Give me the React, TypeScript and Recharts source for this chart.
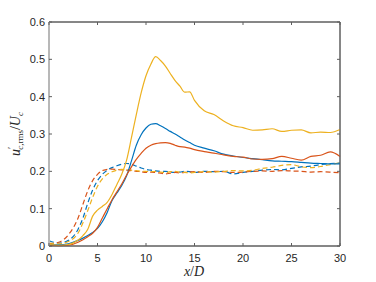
import React from "react";
import { LineChart, Line, XAxis, YAxis, ReferenceArea } from "recharts";

const xs = [0, 1, 2, 3, 3.5, 4, 4.5, 5, 5.5, 6, 6.5, 7, 7.5, 8, 8.5, 9, 9.5, 10, 10.5, 11, 11.5, 12, 12.5, 13, 13.5, 14, 14.5, 15, 16, 17, 18, 19, 20, 21, 22, 23, 24, 25, 26, 27, 28, 29, 30];

// solid lines
const blueSolid = [0.004, 0.003, 0.006, 0.015, 0.021, 0.028, 0.036, 0.047, 0.065, 0.09, 0.122, 0.142, 0.162, 0.188, 0.228, 0.27, 0.298, 0.316, 0.326, 0.328, 0.322, 0.315, 0.307, 0.3, 0.292, 0.284, 0.277, 0.27, 0.262, 0.255, 0.246, 0.241, 0.237, 0.234, 0.231, 0.228, 0.227, 0.226, 0.224, 0.222, 0.221, 0.22, 0.22];
const orangeSolid = [0.002, 0.001, 0.002, 0.01, 0.017, 0.025, 0.034, 0.05, 0.075, 0.1, 0.124, 0.145, 0.166, 0.19, 0.212, 0.232, 0.248, 0.262, 0.27, 0.274, 0.276, 0.277, 0.275, 0.27, 0.266, 0.265, 0.262, 0.258, 0.253, 0.249, 0.244, 0.24, 0.238, 0.233, 0.232, 0.234, 0.24, 0.235, 0.23, 0.24, 0.243, 0.252, 0.24];
const yellowSolid = [0.004, 0.002, 0.004, 0.016, 0.028, 0.045, 0.08, 0.096, 0.106, 0.117, 0.138, 0.165, 0.192, 0.23, 0.29, 0.352, 0.41, 0.456, 0.487, 0.507, 0.497, 0.482, 0.462, 0.443, 0.428, 0.412, 0.413, 0.39, 0.362, 0.352, 0.335, 0.322, 0.317, 0.31, 0.311, 0.314, 0.307, 0.31, 0.311, 0.303, 0.305, 0.304, 0.312];

// dashed lines
const blueDashed = [0.014, 0.008, 0.015, 0.045, 0.075, 0.115, 0.15, 0.175, 0.192, 0.203, 0.21, 0.215, 0.219, 0.221, 0.219, 0.214, 0.209, 0.205, 0.203, 0.201, 0.2, 0.2, 0.198, 0.197, 0.198, 0.2, 0.199, 0.197, 0.2, 0.199, 0.2, 0.193, 0.197, 0.2, 0.203, 0.205, 0.204, 0.208, 0.212, 0.214, 0.218, 0.221, 0.222];
const orangeDashed = [0.006, 0.01, 0.03, 0.075, 0.112, 0.148, 0.175, 0.192, 0.202, 0.205, 0.206, 0.205, 0.204, 0.203, 0.202, 0.2, 0.199, 0.197, 0.198, 0.197, 0.195, 0.193, 0.195, 0.197, 0.196, 0.197, 0.198, 0.199, 0.197, 0.2, 0.199, 0.197, 0.198, 0.2, 0.201, 0.2, 0.202, 0.201, 0.2, 0.198, 0.199, 0.198, 0.196];
const yellowDashed = [0.008, 0.006, 0.012, 0.035, 0.062, 0.095, 0.13, 0.16, 0.18, 0.192, 0.199, 0.203, 0.205, 0.204, 0.203, 0.202, 0.2, 0.2, 0.199, 0.2, 0.198, 0.197, 0.199, 0.2, 0.198, 0.197, 0.196, 0.197, 0.199, 0.198, 0.2, 0.202, 0.201, 0.203, 0.208, 0.211, 0.216, 0.218, 0.212, 0.21, 0.213, 0.218, 0.223];

const xTicks = [0, 5, 10, 15, 20, 25, 30];
const yTicks = [0, 0.1, 0.2, 0.3, 0.4, 0.5, 0.6];

const data = xs.map((x, i) => ({
  x,
  bs: blueSolid[i],
  os: orangeSolid[i],
  ys: yellowSolid[i],
  bd: blueDashed[i],
  od: orangeDashed[i],
  yd: yellowDashed[i],
}));

const BLUE = "#0072BD";
const ORANGE = "#D95319";
const YELLOW = "#EDB120";
const AXIS = "#5e5e5e";
const FONT = "'Liberation Sans', Arial, sans-serif";

// ticks point inward, like MATLAB
const BottomTick = (props: any) => {
  const { x, y, payload } = props;
  return (
    <g>
      <line x1={x} y1={y} x2={x} y2={y - 3} stroke={AXIS} strokeWidth={1} />
      <text x={x} y={y + 16} textAnchor="middle" fontSize={11} fill="#262626" fontFamily={FONT}>
        {payload.value}
      </text>
    </g>
  );
};

const TopTick = (props: any) => {
  const { x, y } = props;
  return <line x1={x} y1={y} x2={x} y2={y + 3} stroke={AXIS} strokeWidth={1} />;
};

const LeftTick = (props: any) => {
  const { x, y, payload } = props;
  return (
    <g>
      <line x1={x} y1={y} x2={x + 3} y2={y} stroke={AXIS} strokeWidth={1} />
      <text x={x - 4} y={y + 4} textAnchor="end" fontSize={11} fill="#262626" fontFamily={FONT}>
        {payload.value === 0 ? "0" : payload.value.toFixed(1)}
      </text>
    </g>
  );
};

const RightTick = (props: any) => {
  const { x, y } = props;
  return <line x1={x} y1={y} x2={x - 3} y2={y} stroke={AXIS} strokeWidth={1} />;
};

export default function App() {
  return (
    <div style={{ position: "absolute", left: 0, top: 0, width: 376, height: 282, background: "#fff" }}>
      <LineChart width={376} height={282} data={data} margin={{ top: 20, right: 34, bottom: 6, left: 0 }}>
        <XAxis
          dataKey="x"
          type="number"
          domain={[0, 30]}
          ticks={xTicks}
          tickSize={0}
          tickMargin={0}
          tickLine={false}
          tick={<BottomTick />}
          axisLine={{ stroke: AXIS, strokeWidth: 1 }}
          height={30}
        />
        <XAxis
          xAxisId="top"
          orientation="top"
          dataKey="x"
          type="number"
          domain={[0, 30]}
          ticks={xTicks}
          tickSize={0}
          tickMargin={0}
          tickLine={false}
          tick={<TopTick />}
          axisLine={{ stroke: AXIS, strokeWidth: 1 }}
          height={2}
        />
        <YAxis
          type="number"
          domain={[0, 0.6]}
          ticks={yTicks}
          width={49}
          tickSize={0}
          tickMargin={0}
          tickLine={false}
          tick={<LeftTick />}
          axisLine={{ stroke: "#b8b8b8", strokeWidth: 2 }}
        />
        <YAxis
          yAxisId="right"
          orientation="right"
          type="number"
          domain={[0, 0.6]}
          ticks={yTicks}
          width={2}
          tickSize={0}
          tickMargin={0}
          tickLine={false}
          tick={<RightTick />}
          axisLine={{ stroke: AXIS, strokeWidth: 1 }}
        />
        <ReferenceArea x1={0} x2={30} y1={0} y2={0.6} fill="none" stroke={AXIS} strokeWidth={1} ifOverflow="visible" />
        {/* invisible series so the mirrored top/right axes get drawn */}
        <Line xAxisId="top" yAxisId="right" dataKey="bs" stroke="none" dot={false} isAnimationActive={false} />
        <Line type="monotone" dataKey="bd" stroke={BLUE} strokeWidth={1.2} strokeDasharray="5 3" dot={false} isAnimationActive={false} />
        <Line type="monotone" dataKey="od" stroke={ORANGE} strokeWidth={1.2} strokeDasharray="5 3" dot={false} isAnimationActive={false} />
        <Line type="monotone" dataKey="yd" stroke={YELLOW} strokeWidth={1.2} strokeDasharray="5 3" dot={false} isAnimationActive={false} />
        <Line type="monotone" dataKey="bs" stroke={BLUE} strokeWidth={1.2} dot={false} isAnimationActive={false} />
        <Line type="monotone" dataKey="os" stroke={ORANGE} strokeWidth={1.2} dot={false} isAnimationActive={false} />
        <Line type="monotone" dataKey="ys" stroke={YELLOW} strokeWidth={1.2} dot={false} isAnimationActive={false} />
      </LineChart>
      <svg width={376} height={282} style={{ position: "absolute", left: 0, top: 0, pointerEvents: "none" }}>
        <text x={194} y={276} textAnchor="middle" fontFamily="'Liberation Serif', 'DejaVu Serif', serif" fontSize={14} fill="#262626">
          <tspan fontStyle="italic">x</tspan>
          <tspan>/</tspan>
          <tspan fontStyle="italic">D</tspan>
        </text>
        <text
          x={20}
          y={134}
          textAnchor="middle"
          transform="rotate(-90, 20, 134)"
          fontFamily="'Liberation Serif', 'DejaVu Serif', serif"
          fontSize={14}
          fill="#262626"
        >
          <tspan fontStyle="italic">u</tspan>
          <tspan fontSize={10} dy={-5}>′</tspan>
          <tspan fontSize={9} dx={-3} dy={8} fontStyle="italic">c</tspan>
          <tspan fontSize={9}>,rms</tspan>
          <tspan dy={-3}>/</tspan>
          <tspan fontStyle="italic">U</tspan>
          <tspan fontSize={9} dy={3} fontStyle="italic">c</tspan>
        </text>
      </svg>
    </div>
  );
}
